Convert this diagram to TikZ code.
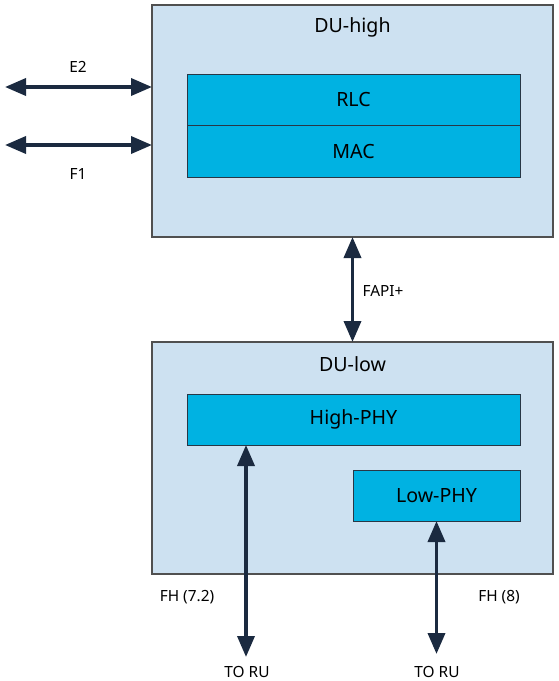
\documentclass[tikz,border=0pt]{standalone}
\usepackage{fontspec}
\setmainfont{Noto Sans}
\usetikzlibrary{arrows.meta}
\definecolor{outerfill}{RGB}{205,225,241}
\definecolor{innerfill}{RGB}{0,178,226}
\definecolor{navy}{RGB}{27,42,64}
\definecolor{outerline}{RGB}{80,80,80}
\definecolor{innerline}{RGB}{40,55,70}
\tikzset{
  outerbox/.style={draw=outerline, fill=outerfill, line width=1.2pt, inner sep=0pt, outer sep=0pt, minimum width=401pt, minimum height=232pt},
  innerbox/.style={draw=innerline, fill=innerfill, line width=1pt, inner sep=0pt, outer sep=0pt, font=\fontsize{19.6}{22}\selectfont},
  title/.style={font=\fontsize{19.6}{22}\selectfont, inner sep=0pt},
  small/.style={font=\fontsize{15.4}{18}\selectfont, inner sep=0pt},
  link/.style={draw=navy, line width=3.6pt, {Triangle[length=21pt,width=17pt]}-{Triangle[length=21pt,width=17pt]}}
}
\begin{document}
\begin{tikzpicture}[x=1pt,y=-1pt]
\useasboundingbox (0,0) rectangle (558,681);
% boxes
\node[outerbox] (duhigh) at (352.5,121) {};
\node[outerbox] (dulow) at (352.5,458) {};
\node[title] (duhightxt) at (352.5,27) {DU-high};
\node[title] (dulowtxt) at (352.5,364) {DU-low};
\node[innerbox, minimum width=333pt, minimum height=51pt] (rlc) at (353.5,99.5) {RLC};
\node[innerbox, minimum width=333pt, minimum height=52pt] (mac) at (353.5,151) {MAC};
\node[innerbox, minimum width=333pt, minimum height=51pt] (highphy) at (353.5,419.5) {High-PHY};
\node[innerbox, minimum width=167pt, minimum height=51pt] (lowphy) at (436.5,495.5) {Low-PHY};
% free ends
\coordinate (e2l) at (5,87);
\coordinate (f1l) at (5,145);
\coordinate (ru1) at (246,657);
\coordinate (ru2) at (436.5,654);
% connectors
\draw[link] (e2l) -- (e2l -| duhigh.west);
\draw[link] (f1l) -- (f1l -| duhigh.west);
\draw[link] (duhigh.south) -- (dulow.north);
\draw[link] (ru1 |- highphy.south) -- (ru1);
\draw[link] (lowphy.south) -- (ru2);
% labels
\node[small] (e2) at (78,67) {E2};
\node[small] (f1) at (78,174) {F1};
\node[small] (fapi) at (383,291) {FAPI+};
\node[small] (fh72) at (187,597) {FH (7.2)};
\node[small] (fh8) at (499,597) {FH (8)};
\node[small] (toru1) at (247,672) {TO RU};
\node[small] (toru2) at (437,672) {TO RU};
\end{tikzpicture}
\end{document}
